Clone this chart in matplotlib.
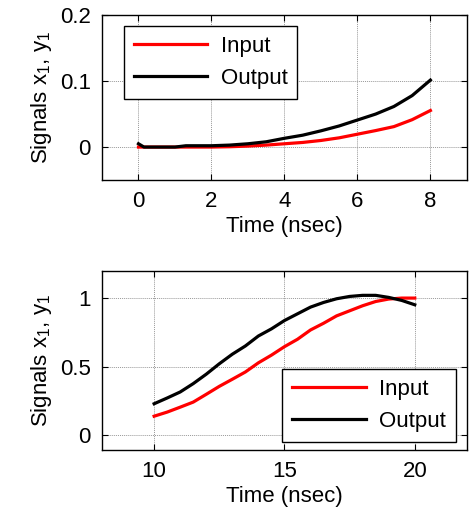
import matplotlib
matplotlib.use('Agg')
import matplotlib.pyplot as plt

plt.rcParams['font.family'] = ['Liberation Sans', 'DejaVu Sans']
plt.rcParams['mathtext.fontset'] = 'custom'
plt.rcParams['mathtext.rm'] = 'Liberation Sans'
plt.rcParams['mathtext.it'] = 'Liberation Sans'

# top panel: 0..8 nsec
t_top = [0, 0.15, 0.5, 1.0, 1.3, 1.5, 2.0, 2.5, 3.0, 3.5, 4.0, 4.5, 5.0, 5.5, 6.0, 6.5, 7.0, 7.5, 8.0]
in_top = [0, 0, 0, 0, 0, 0, 0, 0.0005, 0.0015, 0.003, 0.005, 0.007, 0.010, 0.014, 0.0195, 0.025, 0.031, 0.0415, 0.0554]
out_top = [0.005, 0, 0, 0, 0.002, 0.002, 0.002, 0.003, 0.005, 0.008, 0.0133, 0.018, 0.0246, 0.032, 0.041, 0.05, 0.0615, 0.078, 0.1015]

# bottom panel: 10..20 nsec
t_bot = [10, 10.5, 11, 11.5, 12, 12.5, 13, 13.5, 14, 14.5, 15, 15.5, 16, 16.5, 17, 17.5, 18, 18.5, 19, 19.5, 20]
in_bot = [0.137, 0.167, 0.203, 0.24, 0.297, 0.355, 0.407, 0.46, 0.527, 0.583, 0.645, 0.699, 0.767, 0.816, 0.87, 0.907, 0.944, 0.975, 0.993, 1.0, 1.0]
out_bot = [0.228, 0.27, 0.314, 0.375, 0.444, 0.52, 0.59, 0.65, 0.723, 0.775, 0.836, 0.885, 0.934, 0.968, 0.995, 1.012, 1.02, 1.02, 1.005, 0.983, 0.951]

fs = 16
fig = plt.figure(figsize=(4.69, 5.13), dpi=100)
ax1 = fig.add_axes([0.2175, 0.649, 0.778, 0.3216])
ax2 = fig.add_axes([0.2175, 0.1228, 0.778, 0.3495])


def style(ax):
    ax.grid(True, color='0.6', linestyle=(0, (1, 1)), linewidth=0.7)
    ax.tick_params(direction='in', top=True, right=True, length=4, labelsize=fs, pad=8)
    for s in ax.spines.values():
        s.set_linewidth(1.0)
    ax.set_xlabel('Time (nsec)', fontsize=fs, labelpad=3)
    ax.set_ylabel('Signals x$_1$, y$_1$', fontsize=fs, labelpad=4)


def add_legend(ax, loc, anchor):
    leg = ax.legend(loc=loc, bbox_to_anchor=anchor, borderaxespad=0,
                    fontsize=fs, fancybox=False, framealpha=1, edgecolor='black',
                    handlelength=3.3, handletextpad=0.6, borderpad=0.45,
                    labelspacing=0.5)
    leg.get_frame().set_linewidth(1.0)


ax1.plot(t_top, in_top, color='red', lw=2.3, label='Input')
ax1.plot(t_top, out_top, color='black', lw=2.3, label='Output')
ax1.set_xlim(-1, 9)
ax1.set_ylim(-0.05, 0.2)
ax1.set_xticks([0, 2, 4, 6, 8])
ax1.set_yticks([0, 0.1, 0.2])
ax1.set_yticklabels(['0', '0.1', '0.2'])
style(ax1)
add_legend(ax1, 'upper left', (0.06, 0.933))

ax2.plot(t_bot, in_bot, color='red', lw=2.3, label='Input')
ax2.plot(t_bot, out_bot, color='black', lw=2.3, label='Output')
ax2.set_xlim(8, 22)
ax2.set_ylim(-0.11, 1.2)
ax2.set_xticks([10, 15, 20])
ax2.set_yticks([0, 0.5, 1])
ax2.set_yticklabels(['0', '0.5', '1'])
style(ax2)
add_legend(ax2, 'lower right', (0.97, 0.046))

fig.savefig('out.png', dpi=100)
